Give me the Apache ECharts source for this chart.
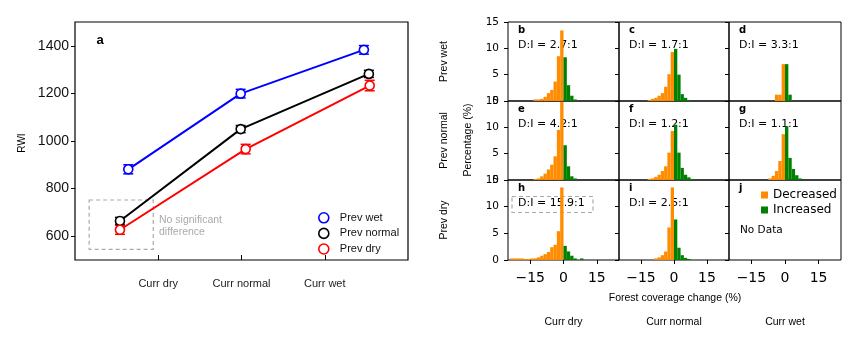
<!DOCTYPE html>
<html><head><meta charset="utf-8">
<script src="https://cdn.jsdelivr.net/npm/echarts@6/dist/echarts.min.js"></script>
<style>html,body{margin:0;padding:0;background:#fff}#c{width:860px;height:344px}</style>
</head><body><div id="c"></div>
<script>
// ---------- Panel a data ----------
const catLabels = ['Curr dry', 'Curr normal', 'Curr wet'];
const catPos = [1, 2, 3];
const seriesNames = ['Prev wet', 'Prev normal', 'Prev dry'];
const seriesColors = ['#0000ff', '#000000', '#ff0000'];
const prevWetX = [0.64, 1.99, 3.47];
const prevWetY = [881, 1199, 1383];
const prevWetErr = [19, 18, 18];
const prevNormalX = [0.54, 1.99, 3.53];
const prevNormalY = [664, 1050, 1282];
const prevNormalErr = [15, 15, 15];
const prevDryX = [0.54, 2.05, 3.54];
const prevDryY = [627, 966, 1233];
const prevDryErr = [19, 20, 22];
const rwiTicks = [600, 800, 1000, 1200, 1400];
const noSigBox = [[0.17, 752], [0.94, 545]];

// ---------- Histogram data (bins listed outward from 0) ----------
const BIN = 1.5;
const histTicks = [-15, 0, 15];
const panelLetters = ['b', 'c', 'd', 'e', 'f', 'g', 'h', 'i', 'j'];
const ratios = ['D:I = 2.7:1', 'D:I = 1.7:1', 'D:I = 3.3:1', 'D:I = 4.2:1', 'D:I = 1.2:1', 'D:I = 1.1:1', 'D:I = 15.9:1', 'D:I = 2.5:1', null];
const rowLabels = ['Prev wet', 'Prev normal', 'Prev dry'];
const dec_b = [13.4, 8.5, 3.7, 2.1, 1.5, 0.8, 0.4, 0.3, 0.3];
const inc_b = [8.3, 3.0, 1.0, 0.3];
const dec_c = [9.3, 5.1, 2.7, 1.5, 1.0, 0.6, 0.4, 0.2];
const inc_c = [9.9, 5.0, 1.3, 0.6, 0.2];
const dec_d = [7.0, 1.2, 1.2];
const inc_d = [7.0, 1.2];
const dec_e = [14.8, 9.5, 4.5, 2.9, 2.0, 1.2, 0.7, 0.3, 0.2];
const inc_e = [6.6, 2.6, 0.7, 0.3];
const dec_f = [9.3, 5.2, 2.6, 1.7, 1.0, 0.6, 0.3, 0.2];
const inc_f = [10.5, 5.2, 2.3, 1.0, 0.5, 0.2];
const dec_g = [8.7, 3.6, 1.7, 0.8, 0.3];
const inc_g = [10.2, 4.2, 2.1, 0.9, 0.3];
const dec_h = [13.6, 5.4, 2.85, 2.4, 1.5, 1.1, 0.8, 0.5, 0.3, 0.3, 0.2, 0.2, 0.3, 0.3, 0.3, 0.3];
const inc_h = [2.65, 1.6, 0.8, 0.3, 0, 0.3];
const dec_i = [13.6, 6.1, 1.6, 0.9, 0.5, 0.3];
const inc_i = [7.6, 2.3, 0.9, 0.4, 0.2];
const dec_j = [];
const inc_j = [];
const decAll = [dec_b, dec_c, dec_d, dec_e, dec_f, dec_g, dec_h, dec_i, dec_j];
const incAll = [inc_b, inc_c, inc_d, inc_e, inc_f, inc_g, inc_h, inc_i, inc_j];

const ORANGE = '#ff8c00', GREEN = '#008000';
const F_ARIAL = 'Liberation Sans, Arial, sans-serif';
const F_DJV = 'DejaVu Sans, sans-serif';

const chart = echarts.init(document.getElementById('c'), null, {renderer: 'canvas'});

const grids = [{left: 75, top: 22, width: 333, height: 238, show: true, borderColor: '#000', borderWidth: 1.2, backgroundColor: 'transparent'}];
const xAxes = [{
  gridIndex: 0, type: 'value', min: 0, max: 4,
  axisLine: {show: false, onZero: false}, splitLine: {show: false},
  axisTick: {show: true, inside: true, length: 5, lineStyle: {color: '#000'}, customValues: catPos},
  axisLabel: {customValues: catPos, margin: 18, fontSize: 11, color: '#222', fontFamily: F_ARIAL,
    formatter: v => catLabels[catPos.indexOf(Math.round(v))] || ''}
}];
const yAxes = [{
  gridIndex: 0, type: 'value', min: 500, max: 1500,
  axisLine: {show: false, onZero: false}, splitLine: {show: false},
  axisTick: {show: true, length: 4, lineStyle: {color: '#000'}, customValues: rwiTicks},
  axisLabel: {customValues: rwiTicks, margin: 6, fontSize: 14, color: '#111', fontFamily: F_ARIAL,
    formatter: v => String(v)}
}];

const colL = [508, 619, 729], colW = [111, 110, 112];
const rowT = [22, 101, 180], rowH = [79, 79, 80];
for (let r = 0; r < 3; r++) for (let c = 0; c < 3; c++) {
  const gi = grids.length;
  grids.push({left: colL[c], top: rowT[r], width: colW[c], height: rowH[r], show: true, borderColor: '#000', borderWidth: 1, backgroundColor: 'transparent'});
  const xa = {gridIndex: gi, type: 'value', min: -25, max: 25,
    axisLine: {show: false, onZero: false}, splitLine: {show: false}};
  if (r === 2) {
    xa.axisTick = {show: true, length: 4, lineStyle: {color: '#000'}, customValues: histTicks};
    xa.axisLabel = {show: true, customValues: histTicks, margin: 11, fontSize: 14, color: '#000', fontFamily: F_DJV,
      formatter: v => v < 0 ? '\u2212' + Math.abs(v) : String(v)};
  } else {
    xa.axisTick = {show: false};
    xa.axisLabel = {show: false};
  }
  xAxes.push(xa);
  yAxes.push({gridIndex: gi, type: 'value', min: 0, max: 15, interval: 5,
    axisLine: {show: false, onZero: false}, splitLine: {show: false},
    axisTick: {show: true, length: 4, lineStyle: {color: '#000'}},
    axisLabel: {show: c === 0, margin: 9, fontSize: 10.5, color: '#000', fontFamily: F_DJV, showMinLabel: true, showMaxLabel: true}});
}

function errRender(params, api) {
  const x = api.value(0), y = api.value(1), e = api.value(2);
  const top = api.coord([x, y + e]), bot = api.coord([x, y - e]);
  const col = api.visual('color');
  const st = {stroke: col, lineWidth: 1.5};
  return {type: 'group', children: [
    {type: 'line', shape: {x1: top[0], y1: top[1], x2: bot[0], y2: bot[1]}, style: st},
    {type: 'line', shape: {x1: top[0] - 5, y1: top[1], x2: top[0] + 5, y2: top[1]}, style: st},
    {type: 'line', shape: {x1: bot[0] - 5, y1: bot[1], x2: bot[0] + 5, y2: bot[1]}, style: st}
  ]};
}
function barRender(params, api) {
  const p0 = api.coord([api.value(0), api.value(2)]);
  const p1 = api.coord([api.value(1), 0]);
  return {type: 'rect', shape: {x: p0[0], y: p0[1], width: p1[0] - p0[0], height: p1[1] - p0[1]},
    style: {fill: api.visual('color')}};
}

const series = [];
const lineX = [prevWetX, prevNormalX, prevDryX];
const lineY = [prevWetY, prevNormalY, prevDryY];
const lineE = [prevWetErr, prevNormalErr, prevDryErr];
for (let s = 0; s < 3; s++) {
  series.push({type: 'custom', name: seriesNames[s] + ' err', xAxisIndex: 0, yAxisIndex: 0,
    itemStyle: {color: seriesColors[s]}, renderItem: errRender, z: 2,
    data: lineX[s].map((x, i) => [x, lineY[s][i], lineE[s][i]])});
}
for (let s = 0; s < 3; s++) {
  const ser = {type: 'line', name: seriesNames[s], xAxisIndex: 0, yAxisIndex: 0, z: 3,
    data: lineX[s].map((x, i) => [x, lineY[s][i]]),
    symbol: 'circle', symbolSize: 9, showSymbol: true,
    lineStyle: {color: seriesColors[s], width: 2},
    itemStyle: {color: '#fff', borderColor: seriesColors[s], borderWidth: 1.6}};
  if (s === 0) {
    ser.markArea = {silent: true, itemStyle: {color: 'transparent', borderColor: '#aaa', borderWidth: 1.2, borderType: [4, 3]},
      data: [[{coord: noSigBox[0]}, {coord: noSigBox[1]}]]};
  }
  series.push(ser);
}
for (let p = 0; p < 9; p++) {
  const gi = p + 1;
  const dec = decAll[p].map((h, i) => [-(i + 1) * BIN, -i * BIN, h]).filter(d => d[2] > 0);
  const inc = incAll[p].map((h, i) => [i * BIN, (i + 1) * BIN, h]).filter(d => d[2] > 0);
  series.push({type: 'custom', name: 'Decreased', xAxisIndex: gi, yAxisIndex: gi, clip: true,
    itemStyle: {color: ORANGE}, renderItem: barRender, encode: {x: [0, 1], y: 2}, data: dec});
  series.push({type: 'custom', name: 'Increased', xAxisIndex: gi, yAxisIndex: gi, clip: true,
    itemStyle: {color: GREEN}, renderItem: barRender, encode: {x: [0, 1], y: 2}, data: inc});
}

const graphic = [];
function txt(x, y, text, opt) {
  graphic.push(Object.assign({type: 'text', x: x, y: y, silent: true,
    style: Object.assign({text: text, fill: '#000', fontSize: 11, fontFamily: F_ARIAL, align: 'center', verticalAlign: 'middle'}, opt && opt.style)},
    opt && opt.rotation ? {rotation: opt.rotation} : {}));
}
txt(100, 40, 'a', {style: {fontWeight: 'bold', fontSize: 13}});
txt(22, 143, 'RWI', {rotation: Math.PI / 2, style: {fontSize: 10}});
txt(159, 220, 'No significant', {style: {align: 'left', fill: '#aaa', fontSize: 10.5}});
txt(159, 232, 'difference', {style: {align: 'left', fill: '#aaa', fontSize: 10.5}});
for (let r = 0; r < 3; r++) {
  txt(444, rowT[r] + rowH[r] / 2, rowLabels[r], {rotation: Math.PI / 2, style: {fontSize: 10.5}});
}
txt(468, 140, 'Percentage (%)', {rotation: Math.PI / 2, style: {fontSize: 10.5}});
txt(675, 298, 'Forest coverage change (%)', {style: {fontSize: 10.5}});
for (let c = 0; c < 3; c++) txt(colL[c] + colW[c] / 2, 322, catLabels[c], {style: {fontSize: 10.5}});
for (let p = 0; p < 9; p++) {
  const r = Math.floor(p / 3), c = p % 3;
  txt(colL[c] + 10, rowT[r] + 8, panelLetters[p], {style: {align: 'left', fontWeight: 'bold', fontSize: 10, fontFamily: F_DJV}});
  if (ratios[p]) txt(colL[c] + 10, rowT[r] + 23, ratios[p], {style: {align: 'left', fontSize: 11, fontFamily: F_DJV}});
}
txt(740, 230, 'No Data', {style: {align: 'left', fontSize: 10.5, fontFamily: F_DJV}});
graphic.push({type: 'rect', silent: true, shape: {x: 512, y: 196.5, width: 81, height: 16},
  style: {fill: 'none', stroke: '#aaa', lineWidth: 1.2, lineDash: [4, 3]}});

chart.setOption({
  animation: false,
  backgroundColor: '#fff',
  grid: grids, xAxis: xAxes, yAxis: yAxes, series: series, graphic: graphic,
  legend: [
    {orient: 'vertical', left: 318, top: 212, itemWidth: 10, itemHeight: 10, itemGap: 4, padding: 0,
      textStyle: {fontSize: 11, fontFamily: F_ARIAL, color: '#111', padding: [0, 0, 0, 6]},
      data: seriesNames.map((n, i) => ({name: n, icon: 'circle', itemStyle: {color: '#fff', borderColor: seriesColors[i], borderWidth: 1.6}}))},
    {orient: 'vertical', left: 761, top: 189, itemWidth: 7, itemHeight: 7, itemGap: 3, padding: 0,
      textStyle: {fontSize: 12, fontFamily: F_DJV, color: '#000', padding: [0, 0, 0, 0]},
      data: [{name: 'Decreased', icon: 'rect'}, {name: 'Increased', icon: 'rect'}]}
  ]
});
</script></body></html>
